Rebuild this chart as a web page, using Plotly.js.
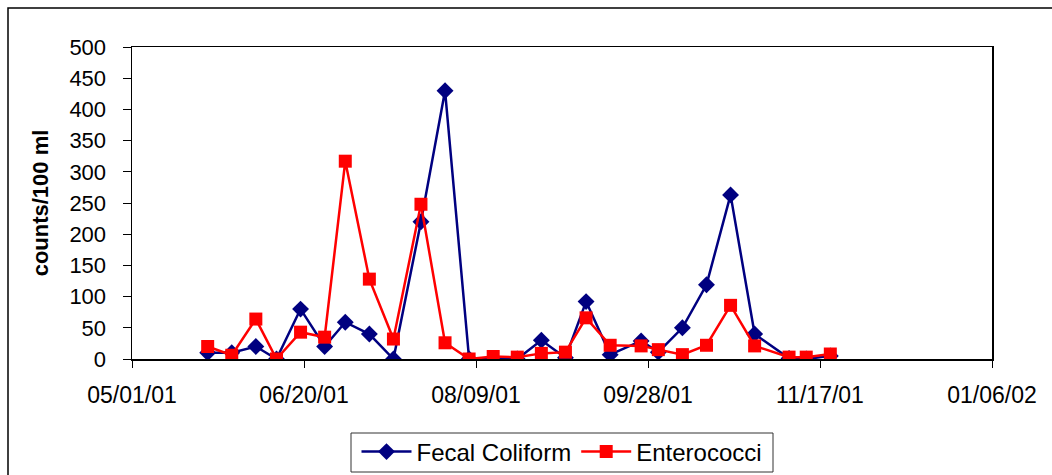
<!DOCTYPE html>
<html>
<head>
<meta charset="utf-8">
<script src="https://cdn.plot.ly/plotly-3.0.1.min.js"></script>
<style>
html,body{margin:0;padding:0;background:#fff;}
#chart{width:1052px;height:475px;}
</style>
</head>
<body>
<div id="chart"></div>
<script>
var dates = ['2001-05-23','2001-05-30','2001-06-06','2001-06-12','2001-06-19','2001-06-26','2001-07-02','2001-07-09','2001-07-16','2001-07-24','2001-07-31','2001-08-07','2001-08-14','2001-08-21','2001-08-28','2001-09-04','2001-09-10','2001-09-17','2001-09-26','2001-10-01','2001-10-08','2001-10-15','2001-10-22','2001-10-29','2001-11-08','2001-11-13','2001-11-20'];
var fecalColiform = [10,10,20,0,80,20,59,40,0,220,430,0,0,0,30,2,92,7,29,11,50,119,263,40,1,0,5];
var enterococci = [20,6,64,0,43,35,317,128,32,248,26,0,4,3,9,11,66,22,21,15,7,22,86,21,3,3,8];
var seriesNames = ['Fecal Coliform','Enterococci'];
var yTitle = 'counts/100 ml';

var font = 'Arial, "Liberation Sans", sans-serif';

var traces = [
  {
    x: dates, y: fecalColiform, name: seriesNames[0], type: 'scatter', mode: 'lines+markers',
    line: {color: '#000080', width: 2.5},
    marker: {symbol: 'diamond', size: 13, color: '#000080'}
  },
  {
    x: dates, y: enterococci, name: seriesNames[1], type: 'scatter', mode: 'lines+markers',
    line: {color: '#FF0000', width: 2.5},
    marker: {symbol: 'square', size: 13, color: '#FF0000'}
  }
];

var plotW = 860, plotH = 312, plotL = 132, plotB = 359;
function px(x) { return (x - plotL) / plotW; }
function py(y) { return (plotB - y) / plotH; }

var layout = {
  width: 1052, height: 475,
  margin: {l: 132, r: 60, t: 47, b: 116},
  paper_bgcolor: '#fff', plot_bgcolor: '#fff',
  font: {family: font, color: '#000'},
  showlegend: true,
  xaxis: {
    type: 'date',
    range: ['2001-05-01', '2002-01-06'],
    tick0: '2001-05-01',
    dtick: 50 * 86400000,
    tickformat: '%m/%d/%y',
    ticks: 'outside', ticklen: 7, tickcolor: '#000', tickwidth: 1,
    showline: true, linecolor: '#000', linewidth: 1.5, mirror: true,
    showgrid: false, zeroline: false,
    tickfont: {size: 23, family: font, color: '#000'},
    ticklabelstandoff: 8,
    automargin: false
  },
  yaxis: {
    range: [0, 500],
    dtick: 50,
    ticks: 'outside', ticklen: 8, tickcolor: '#000', tickwidth: 1,
    showline: true, linecolor: '#000', linewidth: 1.5, mirror: true,
    showgrid: false, zeroline: false,
    tickfont: {size: 22, family: font, color: '#000'},
    ticklabelstandoff: 12,
    automargin: false,
    title: {text: yTitle, font: {size: 22, family: font, color: '#000', weight: 'bold'}, standoff: 14}
  },
  legend: {
    orientation: 'h',
    xref: 'container', yref: 'container',
    x: 562 / 1052, xanchor: 'center',
    y: 1 - 452 / 475, yanchor: 'middle',
    itemwidth: 50,
    borderwidth: 0,
    font: {size: 24, family: font, color: '#000'},
    bgcolor: 'rgba(0,0,0,0)'
  },
  shapes: [
    {type: 'rect', xref: 'paper', yref: 'paper',
     x0: px(8), x1: px(1070), y0: py(490), y1: py(8),
     line: {color: '#000', width: 1.5}, fillcolor: 'rgba(0,0,0,0)', layer: 'below'},
    {type: 'rect', xref: 'paper', yref: 'paper',
     x0: px(351), x1: px(773), y0: py(472), y1: py(433),
     line: {color: '#333', width: 1}, fillcolor: 'rgba(0,0,0,0)', layer: 'below'}
  ]
};

Plotly.newPlot('chart', traces, layout, {displayModeBar: false, staticPlot: true});
</script>
</body>
</html>
